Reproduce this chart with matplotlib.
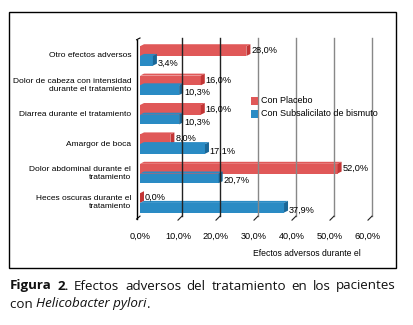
import numpy as np
import matplotlib
matplotlib.use("Agg")
import matplotlib.pyplot as plt
from matplotlib.patches import Polygon, Rectangle

# data (top to bottom as in the picture)
categories = [
    "Otro efectos adversos",
    "Dolor de cabeza con intensidad\ndurante el tratamiento",
    "Diarrea durante el tratamiento",
    "Amargor de boca",
    "Dolor abdominal durante el\ntratamiento",
    "Heces oscuras durante el\ntratamiento",
]
placebo = [28.0, 16.0, 16.0, 8.0, 52.0, 0.0]
bismuto = [3.4, 10.3, 10.3, 17.1, 20.7, 37.9]
series_names = ["Con Placebo", "Con Subsalicilato de bismuto"]
xticks = [0, 10, 20, 30, 40, 50, 60]

RED = "#E05858"
RED_D = "#C23535"
BLUE = "#2A8BC4"
BLUE_D = "#1A6797"
NARROW = ["Liberation Sans", "DejaVu Sans"]

W, H = 413, 325
fig = plt.figure(figsize=(W / 100, H / 100), dpi=100)

def fx(px):
    return px / W

def fy(py):
    return 1 - py / H

# outer frame
fig.add_artist(Rectangle((fx(9), fy(268)), fx(387), 268 / H - 12 / H,
                         transform=fig.transFigure, fill=False, lw=1.0, ec="black"))

ax_l, ax_r, ax_t, ax_b = 140, 368, 38, 222
ax = fig.add_axes([fx(ax_l), fy(ax_b), fx(ax_r - ax_l), (ax_b - ax_t) / H])
ax.set_xlim(0, 60)
ax.set_ylim(-0.65, 5.61)
ax.axis("off")

n = len(categories)
ypos = np.arange(n)[::-1]
bh = 0.33
# depth offset in data units (approx 4px)
dx = 60 / (ax_r - ax_l) * 4
dy = 6.26 / (ax_b - ax_t) * 4

# back wall gridlines (shifted for 3D look)
for t in xticks[1:]:
    c = "#222222" if t <= 20 else "#888888"
    ax.plot([t + dx, t + dx], [-0.45, 5.61], color=c, lw=1.0, clip_on=False)
    ax.plot([t + dx, t], [-0.45, -0.45 - dy], color="#222222", lw=0.8, clip_on=False)
# left wall
ax.plot([-0.9, -0.9], [-0.55, 5.55], color="black", lw=1.0, clip_on=False)
ax.plot([-0.9, 0], [5.55, 5.61], color="black", lw=0.8, clip_on=False)
ax.plot([-0.9, 0], [-0.55, -0.45], color="black", lw=0.8, clip_on=False)

def bar3d(y0, val, face, dark):
    ax.add_patch(Rectangle((0, y0), val, bh, fc=face, ec="none"))
    # top face
    ax.add_patch(Polygon([(0, y0 + bh), (val, y0 + bh), (val + dx, y0 + bh + dy * 0.5),
                          (dx, y0 + bh + dy * 0.5)], closed=True, fc=face, ec="none"))
    # end face
    ax.add_patch(Polygon([(val, y0), (val + dx, y0 + dy * 0.5), (val + dx, y0 + bh + dy * 0.5),
                          (val, y0 + bh)], closed=True, fc=dark, ec="none"))

for y, p, b in zip(ypos, placebo, bismuto):
    bar3d(y, p, RED, RED_D)
    bar3d(y - bh, b, BLUE, BLUE_D)
    ax.text(p + dx + 0.2, y + bh * 0.55, f"{p:.1f}%".replace(".", ","), fontsize=6.6,
            family=NARROW, va="center", ha="left")
    ax.text(b + dx + 0.2, y - bh * 0.75, f"{b:.1f}%".replace(".", ","), fontsize=6.6,
            family=NARROW, va="center", ha="left")

for y, c in zip(ypos, categories):
    ax.text(-2.3, y, c, fontsize=6.0, family=NARROW, ha="right", va="center",
            multialignment="right", linespacing=1.2)

for t in xticks:
    ax.text(t, -1.12, f"{t:.1f}%".replace(".", ","), fontsize=6.6, family=NARROW,
            ha="center", va="center")

ax.text(44, -1.72, "Efectos adversos durante el", fontsize=6.2, family=NARROW,
        ha="center", va="center")

# legend
for i, (name, col) in enumerate(zip(series_names, [RED, BLUE])):
    ly = 101 + i * 13
    fig.add_artist(Rectangle((fx(251), fy(ly + 4)), fx(7), 8 / H, fc=col, ec="none",
                             transform=fig.transFigure))
    fig.text(fx(261), fy(ly), name, fontsize=6.5, family=NARROW, va="center", ha="left")

# caption, justified first line
fig.canvas.draw()
r = fig.canvas.get_renderer()
words = [("Figura", "bold"), ("2.", "bold"), ("Efectos", "normal"), ("adversos", "normal"),
         ("del", "normal"), ("tratamiento", "normal"), ("en", "normal"), ("los", "normal"),
         ("pacientes", "normal")]
arts = []
for w, wt in words:
    a = fig.text(0, fy(286), w, fontsize=9.6, family="Open Sans", weight=wt, va="center",
                 ha="left", color="#111111")
    arts.append(a)
widths = [a.get_window_extent(r).width for a in arts]
gap = (386 - sum(widths)) / (len(arts) - 1)
xcur = 10
for a, wd in zip(arts, widths):
    a.set_x(fx(xcur))
    xcur += wd + gap

t1 = fig.text(fx(10), fy(304), "con ", fontsize=9.6, family="Open Sans", va="center",
              ha="left", color="#111111")
w1 = t1.get_window_extent(r).width
t2 = fig.text(fx(10 + w1), fy(304), "Helicobacter pylori", fontsize=9.6, family="Open Sans",
              style="italic", va="center", ha="left", color="#111111")
w2 = t2.get_window_extent(r).width
fig.text(fx(10 + w1 + w2), fy(304), ".", fontsize=9.6, family="Open Sans", va="center",
         ha="left", color="#111111")

fig.savefig("out.png", dpi=100)
